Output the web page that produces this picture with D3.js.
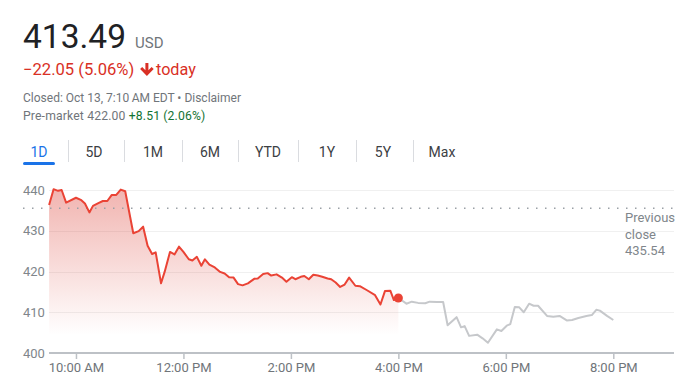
<!DOCTYPE html>
<html>
<head>
<meta charset="utf-8">
<script src="https://cdn.jsdelivr.net/npm/d3@7"></script>
<style>
  html, body { margin: 0; padding: 0; background: #fff; }
  svg { display: block; font-family: Roboto, "Noto Sans", Arial, sans-serif; }
</style>
</head>
<body>
<svg id="chart" width="685" height="382"></svg>
<script>
// ---- data ----
const regularTimes = ["9:30","9:35","9:40","9:44","9:49","10:00","10:06","10:10","10:15","10:19","10:25","10:30","10:35","10:40","10:45","10:50","10:55","11:04","11:10","11:15","11:20","11:25","11:29","11:35","11:39","11:45","11:50","11:55","12:00","12:06","12:10","12:15","12:20","12:24","12:29","12:35","12:41","12:46","12:51","12:56","13:01","13:06","13:12","13:19","13:23","13:29","13:34","13:38","13:44","13:50","13:55","14:01","14:05","14:11","14:15","14:20","14:25","14:30","14:35","14:41","14:45","14:50","14:55","15:00","15:05","15:12","15:17","15:25","15:34","15:40","15:45","15:51","15:55","16:00"];
const regularPrices = [436.3,440.2,439.8,440.0,436.9,438.1,437.5,436.7,434.5,436.1,436.8,437.3,437.3,438.8,438.8,440.1,439.7,429.4,429.9,431.0,426.3,424.3,424.7,417.1,419.9,424.8,424.2,426.1,424.8,423.0,422.7,423.6,421.4,423.0,421.7,421.0,419.9,419.5,418.6,418.5,416.9,416.6,417.1,418.2,418.3,419.4,419.6,419.0,419.3,418.5,417.5,418.6,418.1,418.7,418.9,418.1,419.2,419.0,418.7,418.3,418.1,417.3,416.2,416.8,418.5,416.5,416.4,415.4,414.2,411.9,415.2,415.3,413.0,413.49];
const afterTimes = ["16:00","16:09","16:15","16:22","16:30","16:35","16:43","16:50","16:55","17:05","17:10","17:14","17:19","17:28","17:34","17:40","17:50","17:55","18:01","18:05","18:10","18:15","18:20","18:26","18:31","18:36","18:46","18:53","19:00","19:08","19:14","19:21","19:30","19:36","19:41","19:45","19:53","20:00"];
const afterPrices = [413.49,412.1,412.6,412.3,412.2,412.6,412.5,412.5,406.8,408.8,406.3,406.6,404.2,404.5,403.6,402.5,405.8,405.4,406.7,407.1,411.3,411.2,410.0,412.1,411.6,411.6,409.1,408.9,409.1,408.0,408.1,408.6,409.1,409.3,410.6,410.4,409.1,408.1];
const yTicks = [400, 410, 420, 430, 440];
const xTickTimes = ["10:00","12:00","14:00","16:00","18:00","20:00"];
const xTickLabels = ["10:00 AM","12:00 PM","2:00 PM","4:00 PM","6:00 PM","8:00 PM"];
const previousClose = 435.54;
const tabs = ["1D","5D","1M","6M","YTD","1Y","5Y","Max"];

// ---- helpers ----
const toMin = s => { const [h, m] = s.split(":").map(Number); return h * 60 + m; };
const regular = regularTimes.map((t, i) => ({ t: toMin(t), v: regularPrices[i] }));
const after = afterTimes.map((t, i) => ({ t: toMin(t), v: afterPrices[i] }));

const svg = d3.select("#chart");
const plotLeft = 49, plotRight = 674, plotTop = 190, plotBottom = 353;

const x = d3.scaleLinear().domain([toMin("9:30"), toMin("20:00")]).range([49.1, 613.3]);
const y = d3.scaleLinear().domain([400, 440]).range([plotBottom, plotTop]);

// ---- header ----
svg.append("text").attr("x", 23).attr("y", 48).attr("font-size", 33.5).attr("fill", "#202124").text("413.49");
svg.append("text").attr("x", 135).attr("y", 48).attr("font-size", 15).attr("fill", "#70757a").text("USD");

svg.append("text").attr("x", 23).attr("y", 75).attr("font-size", 16.6).attr("fill", "#d93025").text("\u221222.05 (5.06%)");
// down arrow icon
svg.append("path")
  .attr("d", "M145.4,63 h3 v7.2 l3.2,-3.2 l2.1,2.1 l-6.8,6.8 l-6.8,-6.8 l2.1,-2.1 l3.2,3.2 z")
  .attr("fill", "#d93025");
svg.append("text").attr("x", 156).attr("y", 75).attr("font-size", 16.2).attr("fill", "#d93025").text("today");

svg.append("text").attr("x", 23).attr("y", 102).attr("font-size", 12).attr("fill", "#70757a")
  .text("Closed: Oct 13, 7:10\u2009AM EDT \u2022 Disclaimer");
const pm = svg.append("text").attr("x", 23).attr("y", 120).attr("font-size", 12.2)
  .attr("letter-spacing", 0.15).attr("fill", "#70757a");
pm.append("tspan").text("Pre-market 422.00 ");
pm.append("tspan").attr("fill", "#137333").text("+8.51 (2.06%)");

// ---- tabs ----
const tabCenters = [39, 94, 153, 210, 268, 327, 383, 442];
const sepX = [68, 124, 182, 238, 298, 356, 413];
svg.selectAll(".tab").data(tabs).join("text")
  .attr("class", "tab")
  .attr("x", (d, i) => tabCenters[i]).attr("y", 157)
  .attr("text-anchor", "middle").attr("font-size", 14).attr("font-weight", 400)
  .attr("fill", (d, i) => i === 0 ? "#1a73e8" : "#3c4043")
  .text(d => d);
svg.selectAll(".sep").data(sepX).join("line")
  .attr("class", "sep")
  .attr("x1", d => d + 0.5).attr("x2", d => d + 0.5).attr("y1", 140).attr("y2", 162)
  .attr("stroke", "#dadce0");
svg.append("rect").attr("x", 23).attr("y", 162).attr("width", 32).attr("height", 3).attr("rx", 1.5).attr("fill", "#1a73e8");

// ---- grid ----
svg.selectAll(".grid").data(yTicks.filter(d => d !== 400)).join("line")
  .attr("class", "grid")
  .attr("x1", plotLeft).attr("x2", plotRight)
  .attr("y1", d => Math.round(y(d)) + 0.5).attr("y2", d => Math.round(y(d)) + 0.5)
  .attr("stroke", "#f0f0f0");

svg.selectAll(".ylab").data(yTicks).join("text")
  .attr("class", "ylab")
  .attr("x", 23).attr("y", d => y(d) + 4.5)
  .attr("font-size", 13).attr("fill", "#80868b")
  .text(d => d);

// ---- area + lines ----
const defs = svg.append("defs");
const grad = defs.append("linearGradient").attr("id", "fillGrad")
  .attr("gradientUnits", "userSpaceOnUse").attr("x1", 0).attr("x2", 0).attr("y1", plotTop).attr("y2", 335);
grad.append("stop").attr("offset", 0).attr("stop-color", "#d93025").attr("stop-opacity", 0.36);
grad.append("stop").attr("offset", 1).attr("stop-color", "#d93025").attr("stop-opacity", 0);

svg.append("path").datum(regular)
  .attr("d", d3.area().x(d => x(d.t)).y0(plotBottom).y1(d => y(d.v)))
  .attr("fill", "url(#fillGrad)");

// previous close dotted line
svg.append("line")
  .attr("x1", 23).attr("x2", plotRight)
  .attr("y1", y(previousClose)).attr("y2", y(previousClose))
  .attr("stroke", "#9aa0a6").attr("stroke-width", 1.5)
  .attr("stroke-dasharray", "1.5 7.5");

svg.append("path").datum(after)
  .attr("d", d3.line().x(d => x(d.t)).y(d => y(d.v)))
  .attr("fill", "none").attr("stroke", "#c6c8cb").attr("stroke-width", 2)
  .attr("stroke-linejoin", "round");

svg.append("path").datum(regular)
  .attr("d", d3.line().x(d => x(d.t)).y(d => y(d.v)))
  .attr("fill", "none").attr("stroke", "#ea4335").attr("stroke-width", 2)
  .attr("stroke-linejoin", "round");

const last = regular[regular.length - 1];
svg.append("circle").attr("cx", x(last.t)).attr("cy", y(last.v)).attr("r", 4.5).attr("fill", "#ea4335");

// previous close label
const pc = svg.append("text").attr("font-size", 13).attr("fill", "#80868b");
["Previous", "close", String(previousClose)].forEach((s, i) => {
  pc.append("tspan").attr("x", 625).attr("y", 222 + i * 16.7).text(s);
});

// ---- x axis ----
svg.append("line")
  .attr("x1", plotLeft).attr("x2", plotRight).attr("y1", plotBottom).attr("y2", plotBottom)
  .attr("stroke", "#bdc1c6").attr("stroke-width", 2);
const ax = svg.append("g").attr("transform", `translate(0,${plotBottom})`)
  .call(d3.axisBottom(x).tickValues(xTickTimes.map(toMin))
    .tickFormat((d, i) => xTickLabels[i]).tickSize(6).tickPadding(4));
ax.select(".domain").remove();
ax.selectAll(".tick line").attr("stroke", "#bdc1c6").attr("stroke-width", 1.5);
ax.selectAll(".tick text").attr("font-size", 13).attr("fill", "#70757a")
  .attr("font-family", "Roboto, 'Noto Sans', Arial, sans-serif");
</script>
</body>
</html>
